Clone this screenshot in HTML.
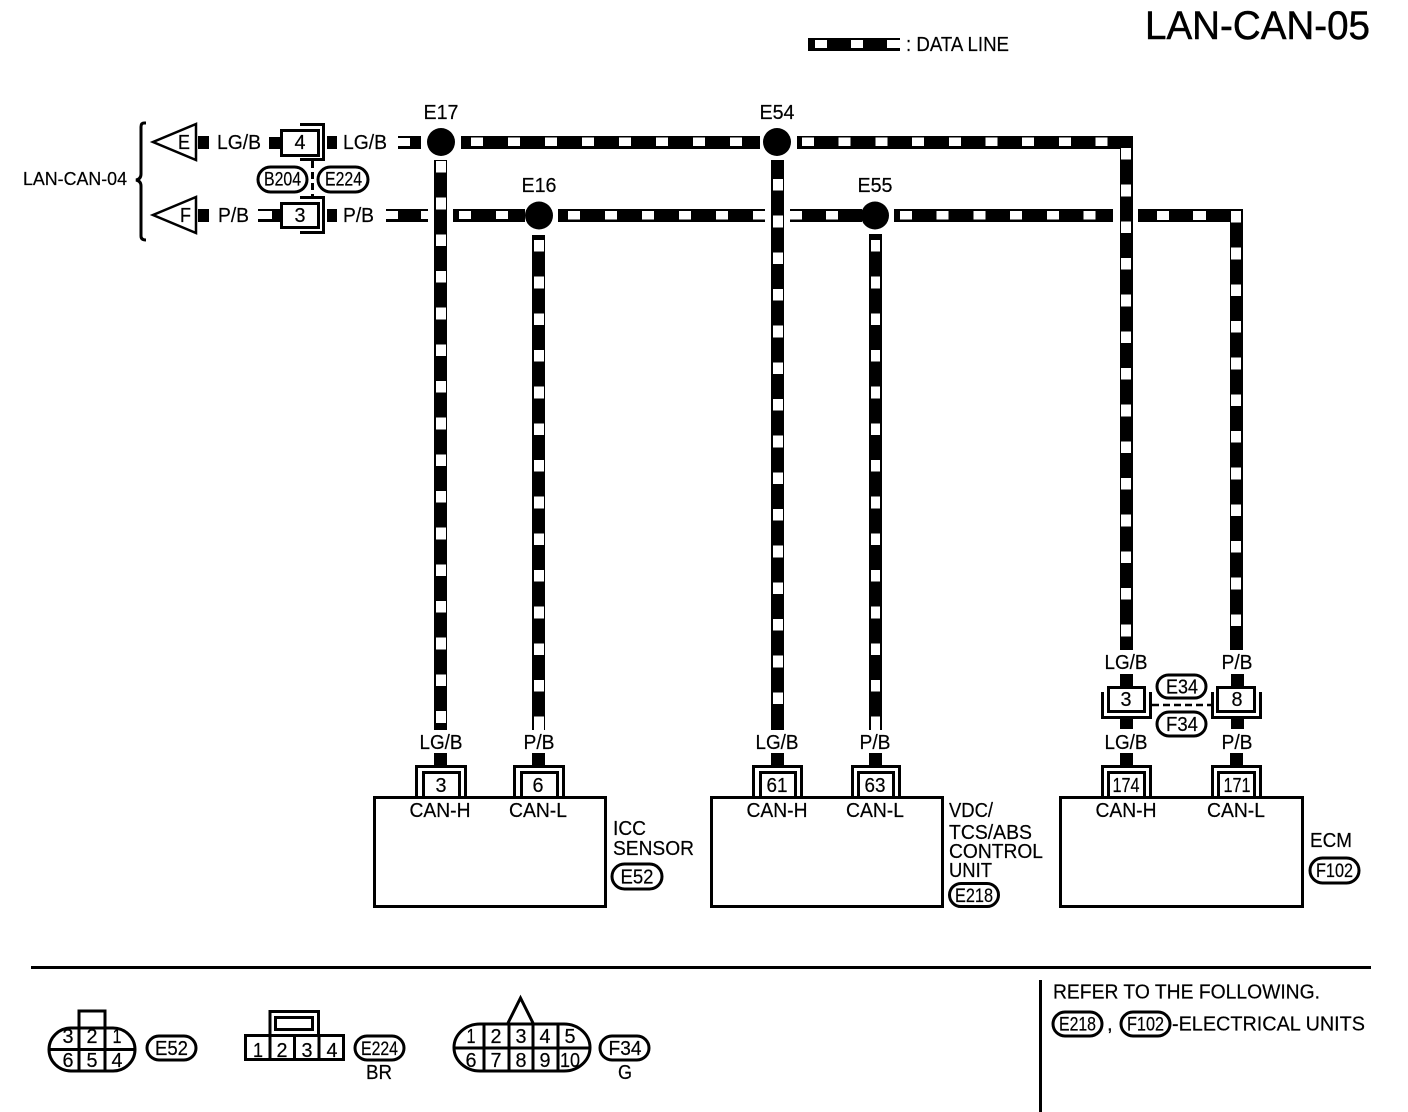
<!DOCTYPE html>
<html><head><meta charset="utf-8"><style>
html,body{margin:0;padding:0;background:#fff}
svg{display:block}
text{font-family:"Liberation Sans",sans-serif;font-size:20.5px;fill:#000;stroke:#000;stroke-width:.2}
.m{text-anchor:middle}
.o{fill:#fff;stroke:#000;stroke-width:3}
.l{fill:none;stroke:#000;stroke-width:3}
.w{fill:none;stroke:#fff}
.k{fill:#000;stroke:none}
</style></head><body>
<svg width="1408" height="1112" viewBox="0 0 1408 1112" xmlns="http://www.w3.org/2000/svg">
<rect width="1408" height="1112" fill="#fff"/>
<text x="1145" y="39" style="font-size:40px;stroke-width:.5" textLength="225" lengthAdjust="spacingAndGlyphs">LAN-CAN-05</text>
<!-- legend -->
<g shape-rendering="crispEdges">
<rect class="k" x="808" y="38" width="92" height="13"/>
<rect x="815" y="40" width="12" height="8" fill="#fff"/><rect x="851" y="40" width="12" height="8" fill="#fff"/><rect x="887" y="40" width="13" height="8" fill="#fff"/>
</g>
<text x="906" y="51" textLength="103" lengthAdjust="spacingAndGlyphs">: DATA LINE</text>

<!-- wires -->
<g shape-rendering="crispEdges">
<rect class="k" x="461" y="136" width="299" height="13"/>
<rect class="k" x="797" y="136" width="336" height="13"/>
<rect class="k" x="1120" y="136" width="13" height="514"/>
<path class="w" stroke-width="8.5" stroke-dasharray="12 25" d="M471 141.500H760"/>
<path class="w" stroke-width="8.5" stroke-dasharray="12 24.700" d="M802 141.500H1108"/>
<path class="w" stroke-width="10" stroke-dasharray="11.700 24.970" d="M1126 148V640"/>

<rect class="k" x="386" y="209" width="42" height="13"/>
<rect x="386" y="211" width="12" height="8" fill="#fff"/>
<rect x="421" y="211" width="7" height="8" fill="#fff"/>
<rect x="398" y="136" width="23" height="13" class="k"/>
<rect x="398" y="138" width="12" height="8" fill="#fff"/>
<rect class="k" x="453" y="209" width="72" height="13"/>
<rect x="459" y="211" width="12" height="8" fill="#fff"/><rect x="496" y="211" width="12" height="8" fill="#fff"/>
<rect class="k" x="558" y="209" width="207" height="13"/>
<path class="w" stroke-width="8.500" stroke-dasharray="12 25" d="M568 215H765"/>
<rect class="k" x="790" y="209" width="72" height="13"/>
<path class="w" stroke-width="8.500" d="M790 215H802M826 215H838"/>
<rect class="k" x="894" y="209" width="219" height="13"/>
<path class="w" stroke-width="8.500" stroke-dasharray="12 24.700" d="M900 215H1096"/>
<rect class="k" x="1138" y="209" width="105" height="13"/>
<rect class="k" x="1230" y="209" width="13" height="441"/>
<path class="w" stroke-width="9" d="M1157 215.500H1169M1193 215.500H1206"/>
<path class="w" stroke-width="10" stroke-dasharray="11.700 24.970" d="M1236 211V640"/>

<rect class="k" x="434" y="160" width="13" height="570"/>
<path class="w" stroke-width="10" stroke-dasharray="11.700 24.970" d="M441 161V724"/>
<rect class="k" x="532" y="235" width="13" height="495"/>
<path class="w" stroke-width="10" stroke-dasharray="11.700 24.970" d="M539 240V717"/>
<rect x="534" y="717" width="10" height="13" fill="#fff"/>
<rect class="k" x="771" y="160" width="13" height="570"/>
<path class="w" stroke-width="10" stroke-dasharray="11.700 24.970" d="M778 179V706"/>
<rect class="k" x="869" y="234" width="13" height="496"/>
<path class="w" stroke-width="9" stroke-dasharray="11.700 24.970" d="M875.500 240V717"/>
<rect x="871" y="717" width="9" height="13" fill="#fff"/>
</g>

<!-- splices -->
<circle cx="441" cy="142" r="14" fill="#000"/>
<circle cx="777" cy="142" r="14" fill="#000"/>
<circle cx="539" cy="215.500" r="14" fill="#000"/>
<circle cx="875" cy="215.500" r="14" fill="#000"/>
<text class="m" x="441" y="119" textLength="35" lengthAdjust="spacingAndGlyphs">E17</text>
<text class="m" x="777" y="119" textLength="35" lengthAdjust="spacingAndGlyphs">E54</text>
<text class="m" x="539" y="192" textLength="35" lengthAdjust="spacingAndGlyphs">E16</text>
<text class="m" x="875" y="192" textLength="35" lengthAdjust="spacingAndGlyphs">E55</text>

<!-- left side -->
<path class="l" d="M146 123H144Q141 123 141 127V174Q141 179 136 180Q141 181 141 186V236Q141 240 146 240"/>
<text x="23" y="185" style="font-size:18px" textLength="104" lengthAdjust="spacingAndGlyphs">LAN-CAN-04</text>
<path class="l" style="stroke-width:2.500" d="M196 124L153 142L196 160Z"/>
<path class="l" style="stroke-width:2.500" d="M196 197L153 215L196 233Z"/>
<text x="178" y="149" textLength="12" lengthAdjust="spacingAndGlyphs">E</text><text x="180" y="222" textLength="11" lengthAdjust="spacingAndGlyphs">F</text>
<rect class="k" x="198" y="136" width="11" height="13"/>
<rect class="k" x="198" y="209" width="11" height="13"/>
<text x="217" y="149" textLength="44" lengthAdjust="spacingAndGlyphs">LG/B</text>
<text x="343" y="149" textLength="44" lengthAdjust="spacingAndGlyphs">LG/B</text>
<text x="218" y="222" textLength="31" lengthAdjust="spacingAndGlyphs">P/B</text>
<text x="343" y="222" textLength="31" lengthAdjust="spacingAndGlyphs">P/B</text>
<rect class="k" x="269" y="137" width="12" height="12"/>
<rect class="k" x="327" y="136" width="10" height="13"/>
<rect class="k" x="258" y="209" width="22" height="13"/><rect x="258" y="211" width="14" height="8" fill="#fff"/>
<rect class="k" x="327" y="209" width="10" height="13"/>
<rect class="l" x="281.500" y="130.500" width="37" height="25"/>
<path class="l" d="M300 124.500H323.500V159.500H300"/>
<text class="m" x="300" y="149" textLength="11" lengthAdjust="spacingAndGlyphs">4</text>
<rect class="l" x="281.500" y="203.500" width="37" height="24"/>
<path class="l" d="M300 197.500H323.500V232.500H300"/>
<text class="m" x="300" y="222" textLength="11" lengthAdjust="spacingAndGlyphs">3</text>
<path d="M312.500 161V197" stroke="#000" stroke-width="3" stroke-dasharray="7 4" fill="none"/>
<rect class="l" x="258" y="167" width="49" height="25" rx="12.500"/>
<rect class="l" x="318" y="167" width="50" height="25" rx="12.500"/>
<text x="264" y="185.500" style="font-size:19px" textLength="37" lengthAdjust="spacingAndGlyphs">B204</text>
<text x="325" y="185.500" style="font-size:19px" textLength="37" lengthAdjust="spacingAndGlyphs">E224</text>

<!-- ICC -->
<rect class="l" x="374.500" y="797.500" width="231" height="109"/>
<rect class="k" x="434" y="753" width="13" height="12"/><rect class="k" x="532" y="753" width="13" height="12"/>
<path class="l" d="M416.500 796V766.500H465.500V796M423.500 796V772.500H459.500V796"/>
<path class="l" d="M514.500 796V766.500H563.500V796M521.500 796V772.500H557.500V796"/>
<text class="m" x="441" y="792" textLength="11" lengthAdjust="spacingAndGlyphs">3</text><text class="m" x="538" y="792" textLength="11" lengthAdjust="spacingAndGlyphs">6</text>
<text class="m" x="441" y="749" textLength="43" lengthAdjust="spacingAndGlyphs">LG/B</text><text class="m" x="539" y="749" textLength="31" lengthAdjust="spacingAndGlyphs">P/B</text>
<text class="m" x="440" y="817" textLength="61" lengthAdjust="spacingAndGlyphs">CAN-H</text><text class="m" x="538" y="817" textLength="58" lengthAdjust="spacingAndGlyphs">CAN-L</text>
<text x="613" y="835" textLength="33" lengthAdjust="spacingAndGlyphs">ICC</text><text x="613" y="855" textLength="81" lengthAdjust="spacingAndGlyphs">SENSOR</text>
<rect class="l" x="612" y="864" width="50" height="25" rx="12.500"/>
<text class="m" x="637" y="883.500" textLength="33" lengthAdjust="spacingAndGlyphs">E52</text>

<!-- VDC -->
<rect class="l" x="711.500" y="797.500" width="231" height="109"/>
<rect class="k" x="771" y="753" width="13" height="12"/><rect class="k" x="869" y="753" width="13" height="12"/>
<path class="l" d="M753.500 796V766.500H801.500V796M760.500 796V772.500H795.500V796"/>
<path class="l" d="M852.500 796V766.500H899.500V796M858.500 796V772.500H893.500V796"/>
<text class="m" x="777" y="792" textLength="21" lengthAdjust="spacingAndGlyphs">61</text><text class="m" x="875" y="792" textLength="21" lengthAdjust="spacingAndGlyphs">63</text>
<text class="m" x="777" y="749" textLength="43" lengthAdjust="spacingAndGlyphs">LG/B</text><text class="m" x="875" y="749" textLength="31" lengthAdjust="spacingAndGlyphs">P/B</text>
<text class="m" x="777" y="817" textLength="61" lengthAdjust="spacingAndGlyphs">CAN-H</text><text class="m" x="875" y="817" textLength="58" lengthAdjust="spacingAndGlyphs">CAN-L</text>
<text x="949" y="817" textLength="44" lengthAdjust="spacingAndGlyphs">VDC/</text><text x="949" y="839" textLength="83" lengthAdjust="spacingAndGlyphs">TCS/ABS</text><text x="949" y="858" textLength="94" lengthAdjust="spacingAndGlyphs">CONTROL</text><text x="949" y="877" textLength="43" lengthAdjust="spacingAndGlyphs">UNIT</text>
<rect class="l" x="949.500" y="883.500" width="49" height="23" rx="11.500"/>
<text x="955" y="902" style="font-size:19.500px" textLength="38" lengthAdjust="spacingAndGlyphs">E218</text>

<!-- ECM -->
<rect class="l" x="1060.500" y="797.500" width="242" height="109"/>
<rect class="k" x="1120" y="753" width="13" height="12"/><rect class="k" x="1230" y="753" width="13" height="12"/>
<path class="l" d="M1102.500 796V766.500H1150.500V796M1108.500 796V772.500H1144.500V796"/>
<path class="l" d="M1212.500 796V766.500H1260.500V796M1218.500 796V772.500H1254.500V796"/>
<text class="m" x="1126" y="792" textLength="27" lengthAdjust="spacingAndGlyphs">174</text><text class="m" x="1237" y="792" textLength="27" lengthAdjust="spacingAndGlyphs">171</text>
<text class="m" x="1126" y="749" textLength="43" lengthAdjust="spacingAndGlyphs">LG/B</text><text class="m" x="1237" y="749" textLength="31" lengthAdjust="spacingAndGlyphs">P/B</text>
<text class="m" x="1126" y="817" textLength="61" lengthAdjust="spacingAndGlyphs">CAN-H</text><text class="m" x="1236" y="817" textLength="58" lengthAdjust="spacingAndGlyphs">CAN-L</text>
<text x="1310" y="847" textLength="42" lengthAdjust="spacingAndGlyphs">ECM</text>
<rect class="l" x="1310" y="858" width="49" height="25" rx="12.500"/>
<text x="1316" y="877" style="font-size:19.500px" textLength="37" lengthAdjust="spacingAndGlyphs">F102</text>

<!-- E34/F34 -->
<text class="m" x="1126" y="669" textLength="43" lengthAdjust="spacingAndGlyphs">LG/B</text><text class="m" x="1237" y="669" textLength="31" lengthAdjust="spacingAndGlyphs">P/B</text>
<rect class="k" x="1120" y="674" width="13" height="13"/><rect class="k" x="1231" y="674" width="13" height="13"/>
<rect class="k" x="1120" y="718" width="13" height="11"/><rect class="k" x="1231" y="718" width="13" height="11"/>
<rect class="l" x="1108.500" y="687.500" width="36" height="24"/>
<rect class="l" x="1217.500" y="687.500" width="37" height="24"/>
<path class="l" d="M1102.500 692V717.500H1150.500V692"/>
<path class="l" d="M1212.500 692V717.500H1260.500V692"/>
<text class="m" x="1126" y="706" textLength="11" lengthAdjust="spacingAndGlyphs">3</text><text class="m" x="1237" y="706" textLength="11" lengthAdjust="spacingAndGlyphs">8</text>
<path d="M1152 705H1211" stroke="#000" stroke-width="2.500" stroke-dasharray="7 4" fill="none"/>
<rect class="o" x="1157" y="675" width="49" height="23" rx="11.500"/>
<rect class="o" x="1157" y="712" width="49" height="24" rx="12"/>
<text class="m" x="1182" y="693.500" textLength="32" lengthAdjust="spacingAndGlyphs">E34</text><text class="m" x="1182" y="731" textLength="32" lengthAdjust="spacingAndGlyphs">F34</text>

<!-- footer -->
<rect class="k" x="31" y="966" width="1340" height="3"/>
<rect class="k" x="1039" y="980" width="3" height="132"/>
<text x="1053" y="998.500" textLength="267" lengthAdjust="spacingAndGlyphs">REFER TO THE FOLLOWING.</text>
<rect class="l" x="1053" y="1012" width="49" height="24" rx="12"/>
<text x="1059" y="1030.500" style="font-size:19.500px" textLength="37" lengthAdjust="spacingAndGlyphs">E218</text>
<text x="1107" y="1030.500">,</text>
<rect class="l" x="1121" y="1012" width="49" height="24" rx="12"/>
<text x="1127" y="1030.500" style="font-size:19.500px" textLength="37" lengthAdjust="spacingAndGlyphs">F102</text>
<text x="1172" y="1030.500" textLength="193" lengthAdjust="spacingAndGlyphs">-ELECTRICAL UNITS</text>

<!-- E52 connector -->
<path class="l" d="M71 1028H113A22 21.500 0 0 1 113 1071H71A22 21.500 0 0 1 71 1028Z"/>
<path class="l" d="M49 1049.500H135M79 1028V1071M105 1028V1071M79 1028V1011H105V1028"/>
<text class="m" x="68" y="1043" textLength="11" lengthAdjust="spacingAndGlyphs">3</text><text class="m" x="92" y="1043" textLength="11" lengthAdjust="spacingAndGlyphs">2</text><text class="m" x="117" y="1043" textLength="9" lengthAdjust="spacingAndGlyphs">1</text>
<text class="m" x="68" y="1067" textLength="11" lengthAdjust="spacingAndGlyphs">6</text><text class="m" x="92" y="1067" textLength="11" lengthAdjust="spacingAndGlyphs">5</text><text class="m" x="117" y="1067" textLength="11" lengthAdjust="spacingAndGlyphs">4</text>
<rect class="l" x="147" y="1036" width="49" height="24" rx="12"/>
<text class="m" x="171.500" y="1055" textLength="33" lengthAdjust="spacingAndGlyphs">E52</text>

<!-- E224 connector -->
<rect class="l" x="245.500" y="1035.500" width="98" height="24"/>
<path class="l" d="M270 1035V1060M294.500 1035V1060M319 1035V1060M270 1035V1011.500H318.500V1035"/>
<rect class="l" x="275.500" y="1017.500" width="37" height="12"/>
<text class="m" x="258" y="1057" textLength="10" lengthAdjust="spacingAndGlyphs">1</text><text class="m" x="282" y="1057" textLength="11" lengthAdjust="spacingAndGlyphs">2</text><text class="m" x="307" y="1057" textLength="11" lengthAdjust="spacingAndGlyphs">3</text><text class="m" x="332" y="1057" textLength="11" lengthAdjust="spacingAndGlyphs">4</text>
<rect class="l" x="355" y="1036" width="49" height="24" rx="12"/>
<text x="361" y="1055" style="font-size:19.500px" textLength="37" lengthAdjust="spacingAndGlyphs">E224</text>
<text class="m" x="379" y="1079" textLength="26" lengthAdjust="spacingAndGlyphs">BR</text>

<!-- F34 connector -->
<path class="l" d="M480 1024H564A26 23.500 0 0 1 564 1071H480A26 23.500 0 0 1 480 1024Z"/>
<path class="l" d="M454 1048H590M484 1024V1071M509 1024V1071M533 1024V1071M558 1024V1071M508 1023L520.500 998L533 1023"/>
<text class="m" x="471" y="1043" textLength="9" lengthAdjust="spacingAndGlyphs">1</text><text class="m" x="496" y="1043" textLength="11" lengthAdjust="spacingAndGlyphs">2</text><text class="m" x="521" y="1043" textLength="11" lengthAdjust="spacingAndGlyphs">3</text><text class="m" x="545" y="1043" textLength="11" lengthAdjust="spacingAndGlyphs">4</text><text class="m" x="570" y="1043" textLength="11" lengthAdjust="spacingAndGlyphs">5</text>
<text class="m" x="471" y="1067" textLength="11" lengthAdjust="spacingAndGlyphs">6</text><text class="m" x="496" y="1067" textLength="11" lengthAdjust="spacingAndGlyphs">7</text><text class="m" x="521" y="1067" textLength="11" lengthAdjust="spacingAndGlyphs">8</text><text class="m" x="545" y="1067" textLength="11" lengthAdjust="spacingAndGlyphs">9</text><text class="m" x="570" y="1067" textLength="20" lengthAdjust="spacingAndGlyphs">10</text>
<rect class="l" x="600" y="1036" width="49" height="24" rx="12"/>
<text class="m" x="625" y="1055" textLength="33" lengthAdjust="spacingAndGlyphs">F34</text>
<text class="m" x="625" y="1079" textLength="14" lengthAdjust="spacingAndGlyphs">G</text>
</svg>
</body></html>
